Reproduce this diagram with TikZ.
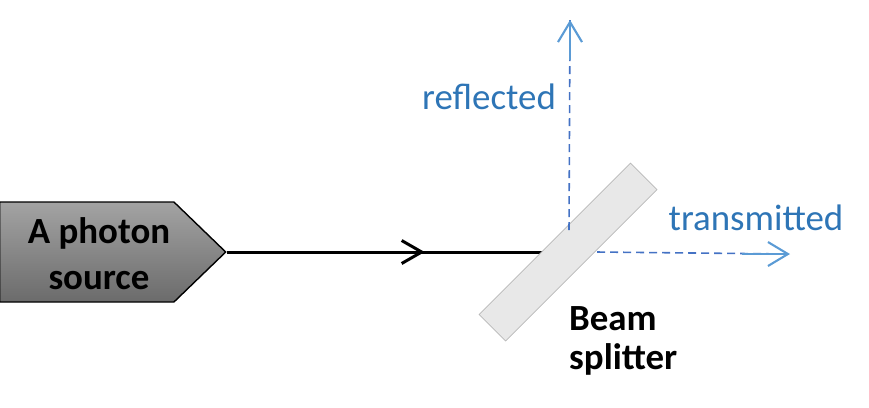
\documentclass[tikz,border=0pt]{standalone}
\usepackage{fontspec}
\setmainfont{Carlito}
\usetikzlibrary{arrows.meta,shapes.symbols,decorations.markings,backgrounds}

\definecolor{rayblue}{RGB}{68,114,196}
\definecolor{tipblue}{RGB}{91,155,213}
\definecolor{textblue}{RGB}{46,117,182}

\begin{document}
\begin{tikzpicture}
    [
    x=0.2mm, y=-0.2mm,
    source/.style={signal,signal to=east,signal pointer angle=88,draw=black,line width=0.8pt,
        top color=black!36,bottom color=black!58,minimum width=45.2mm,minimum height=20mm,inner sep=0pt},
    splitter/.style={rectangle,rotate=45,draw=black!28,fill=black!9,minimum width=42.8mm,minimum height=7.5mm},
    beam/.style={line width=1.7pt},
    ray/.style={rayblue,line width=0.9pt,dash pattern=on 1.6mm off 1mm},
    raytip/.style={tipblue,line width=1.2pt,-{Straight Barb[length=4mm,width=4.8mm]}},
    label/.style={font=\fontsize{21}{26}\selectfont,align=center},
    ]
\useasboundingbox (0,0) rectangle (869,407);
\node[source,anchor=west] (src) at (-1,252) {};
\node[label,font=\fontsize{21}{26}\selectfont\bfseries] (srctext) at (99,254) {A photon\\source};
\node[splitter] (bs) at (568,252) {};
\coordinate (refl) at (570,20);
\coordinate (trans) at (790,254);
\begin{scope}[on background layer]
\draw[beam,postaction={decorate},decoration={markings,
    mark=at position 0.58 with {\arrow{Straight Barb[length=4mm,width=4.6mm,line width=1.7pt]}}}]
    (src.east) -- (bs.center);
\end{scope}
\draw[ray] (bs.center) ++(1,-22) -- (refl);
\draw[ray] (bs.center) ++(29,0) -- (trans);
\draw[raytip] (refl) ++(0,40) -- (refl);
\draw[raytip] (trans) ++(-48,0) -- (trans);
\node[label,text=textblue] (refltext) at (489,97) {reflected};
\node[label,text=textblue] (transtext) at (756,218) {transmitted};
\node[label,font=\fontsize{21}{22}\selectfont\bfseries,align=left,anchor=west] (bstext) at (563,341) {Beam\\splitter};
\end{tikzpicture}
\end{document}
